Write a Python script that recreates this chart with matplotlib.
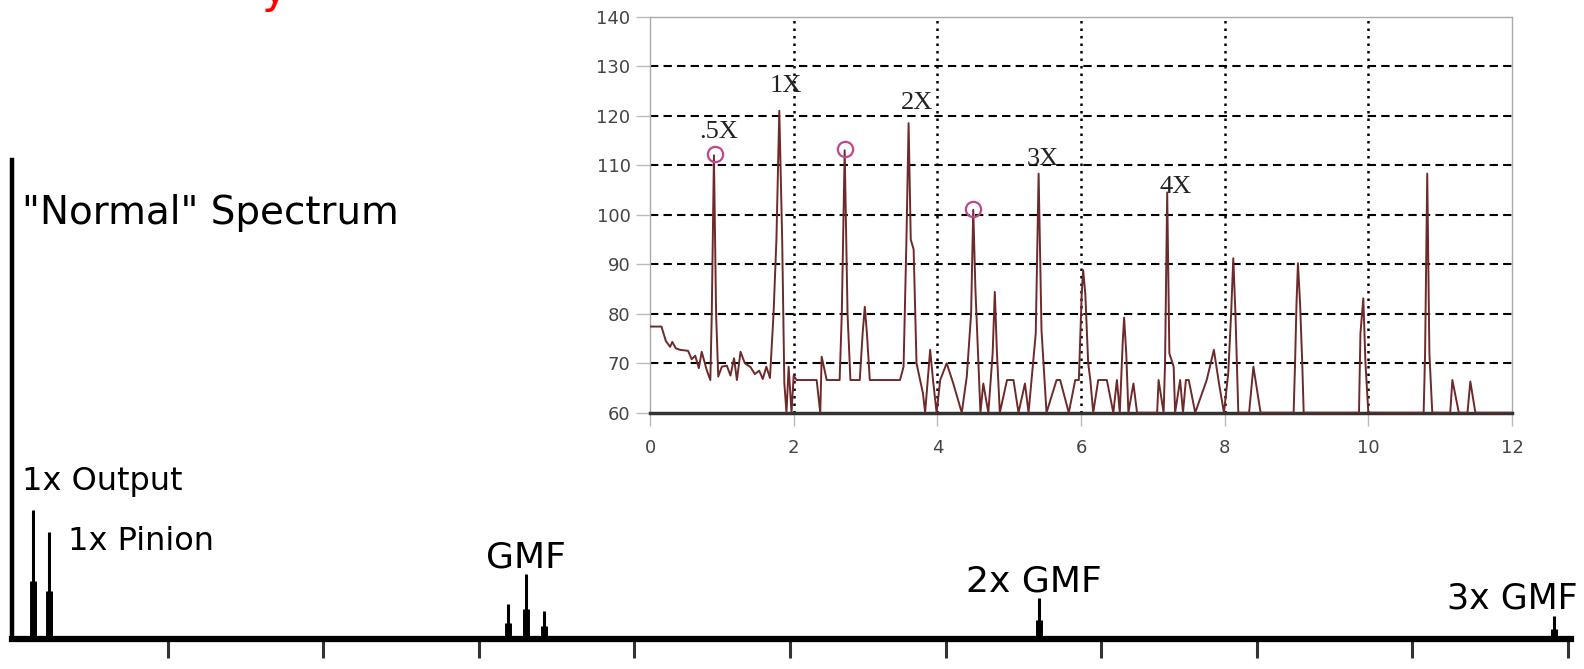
import matplotlib
matplotlib.use("Agg")
import matplotlib.pyplot as plt

# inset spectrum (frequency, amplitude)
spec_x = [0.00, 0.16, 0.22, 0.28, 0.31, 0.36, 0.42, 0.53, 0.58, 0.63, 0.68, 0.72, 0.79, 0.84,
          0.86, 0.89, 0.92, 0.95, 1.00, 1.07, 1.12, 1.17, 1.21, 1.26, 1.32, 1.40, 1.46, 1.52,
          1.57, 1.62, 1.67, 1.72, 1.76, 1.80, 1.84, 1.87, 1.90, 1.93, 1.97, 2.00, 2.04, 2.32,
          2.37, 2.39, 2.46, 2.64, 2.67, 2.71, 2.75, 2.79, 2.92, 2.96, 2.99, 3.02, 3.06, 3.48,
          3.53, 3.57, 3.60, 3.63, 3.67, 3.71, 3.80, 3.83, 3.90, 3.94, 3.99, 4.04, 4.13, 4.22,
          4.34, 4.41, 4.47, 4.50, 4.53, 4.60, 4.64, 4.71, 4.77, 4.80, 4.83, 4.87, 4.97, 5.06,
          5.13, 5.22, 5.27, 5.32, 5.37, 5.41, 5.45, 5.52, 5.66, 5.71, 5.83, 5.92, 5.97, 6.01,
          6.03, 6.06, 6.10, 6.13, 6.17, 6.24, 6.36, 6.45, 6.50, 6.54, 6.58, 6.60, 6.63, 6.66,
          6.73, 6.78, 7.06, 7.08, 7.15, 7.17, 7.20, 7.23, 7.29, 7.31, 7.38, 7.42, 7.46, 7.50,
          7.59, 7.75, 7.85, 7.92, 7.99, 8.05, 8.09, 8.12, 8.15, 8.19, 8.34, 8.40, 8.50, 8.96,
          8.98, 9.00, 9.02, 9.05, 9.08, 9.10, 9.87, 9.89, 9.93, 9.96, 10.00, 10.77, 10.79,
          10.82, 10.85, 10.89, 11.14, 11.17, 11.26, 11.38, 11.42, 11.49, 12.00]
spec_y = [77.4, 77.4, 74.5, 73.3, 74.3, 73.0, 72.7, 72.5, 70.8, 71.5, 69.0, 72.3, 68.6, 66.6,
          80.0, 112.0, 80.0, 67.3, 69.3, 69.5, 67.5, 71.0, 66.6, 72.3, 70.0, 69.2, 67.8, 68.5,
          66.8, 69.3, 67.0, 80.0, 95.0, 121.0, 95.0, 66.0, 60.0, 69.3, 60.0, 67.5, 66.6, 66.6,
          60.0, 71.3, 66.6, 66.6, 80.0, 113.0, 80.0, 66.6, 66.6, 76.0, 81.4, 76.0, 66.6, 66.6,
          69.3, 95.0, 118.5, 95.0, 93.0, 70.0, 63.9, 60.0, 72.7, 66.6, 60.0, 66.6, 70.0, 66.0,
          60.0, 67.3, 80.0, 101.0, 85.0, 60.0, 65.9, 60.0, 72.0, 84.4, 72.0, 60.0, 66.6, 66.6,
          60.0, 65.9, 60.0, 68.0, 76.0, 108.3, 76.7, 60.0, 66.6, 66.6, 60.0, 66.6, 66.6, 84.0,
          88.8, 84.0, 70.0, 66.6, 60.0, 66.6, 66.6, 60.0, 66.6, 60.0, 74.0, 79.2, 72.0, 60.0,
          65.9, 60.0, 60.0, 66.6, 60.0, 70.0, 104.5, 72.0, 69.3, 60.0, 66.6, 60.0, 66.6, 66.6,
          60.0, 66.6, 72.7, 66.0, 60.0, 68.0, 80.0, 91.2, 80.0, 60.0, 60.0, 69.3, 60.0, 60.0,
          70.0, 82.0, 90.2, 82.0, 70.0, 60.0, 60.0, 76.0, 83.1, 70.0, 60.0, 60.0, 72.0,
          108.3, 72.0, 60.0, 60.0, 66.6, 60.0, 60.0, 66.3, 60.0, 60.0]

circle_x = [0.905, 2.72, 4.50]
circle_y = [112.3, 113.2, 101.2]

order_labels = [".5X", "1X", "2X", "3X", "4X"]
order_x = [0.95, 1.89, 3.71, 5.47, 7.32]
order_y = [116.8, 125.9, 122.6, 111.3, 105.5]

# "normal" spectrum sketch: peak positions and heights (axis fraction)
peak_x = [0.137, 0.241, 3.19, 3.305, 3.42, 6.60, 9.91]
peak_h = [0.269, 0.222, 0.072, 0.135, 0.057, 0.085, 0.046]

sketch_labels = ["1x Output", "1x Pinion", "GMF", "2x GMF", "3x GMF"]
sketch_lx = [0.064, 0.358, 3.30, 6.57, 9.64]
sketch_ly = [0.310, 0.184, 0.148, 0.099, 0.063]
sketch_ha = ["left", "left", "center", "center", "center"]
sketch_size = [23, 23, 26, 26, 25]

fig = plt.figure(figsize=(15.84, 6.69), dpi=100)

# ---- sketch of a normal gearbox spectrum ----
ax_s = fig.add_axes([12 / 1584, 1 - 638.5 / 669, 1559 / 1584, 478.5 / 669])
ax_s.set_xlim(0, 1559 / 155.6)
ax_s.set_ylim(0, 1)
for side in ["top", "right"]:
    ax_s.spines[side].set_visible(False)
ax_s.spines["left"].set_linewidth(3.2)
ax_s.spines["bottom"].set_linewidth(4.5)
ax_s.set_xticks(range(1, 11))
ax_s.set_xticklabels([])
ax_s.set_yticks([])
ax_s.tick_params(axis="x", length=14, width=2.2, color="#333333")
ax_s.vlines(peak_x, 0, peak_h, color="black", lw=2.2)
ax_s.vlines(peak_x, 0, [h * 0.45 for h in peak_h], color="black", lw=5)
ax_s.text(0.064, 0.866, '"Normal" Spectrum', fontsize=28, ha="left", va="baseline")
for lab, lx, ly, ha, fs in zip(sketch_labels, sketch_lx, sketch_ly, sketch_ha, sketch_size):
    ax_s.text(lx, ly, lab, fontsize=fs, ha=ha, va="baseline")

# cut-off red title at the very top
fig.text(262 / 1584, 1.0 - 3 / 669, "y", color="red", fontsize=32, ha="left", va="baseline")

# ---- measured spectrum inset ----
ax_i = fig.add_axes([650 / 1584, 1 - 412.7 / 669, 862 / 1584, 396 / 669], zorder=3)
ax_i.set_facecolor("white")
ax_i.plot(spec_x, spec_y, color="#6e2a2a", lw=1.4, zorder=3)
ax_i.plot(circle_x, circle_y, "o", ms=11, mfc="none", mec="#c2468a", mew=1.6, zorder=4)
for lab, ox, oy in zip(order_labels, order_x, order_y):
    ax_i.text(ox, oy, lab, family="Liberation Serif", fontsize=19, ha="center", va="center",
              color="#222222", zorder=5)
ax_i.set_xlim(0, 12)
ax_i.set_ylim(60, 140)
ax_i.set_xticks(range(0, 13, 2))
ax_i.set_yticks(range(60, 141, 10))
for v in range(2, 12, 2):
    ax_i.axvline(v, color="black", lw=1.8, ls=(0, (1, 2)), zorder=1)
for v in range(70, 140, 10):
    ax_i.axhline(v, color="black", lw=1.5, ls=(0, (4, 2.5)), zorder=1)
for side in ["top", "right", "left"]:
    ax_i.spines[side].set_color("#aaaaaa")
    ax_i.spines[side].set_linewidth(1.0)
ax_i.spines["bottom"].set_color("#333333")
ax_i.spines["bottom"].set_linewidth(2.5)
ax_i.tick_params(axis="x", length=9, width=1, color="#bbbbbb", pad=10,
                 labelsize=13, labelcolor="#444444")
ax_i.tick_params(axis="y", length=10, width=1, color="#bbbbbb", pad=4,
                 labelsize=13, labelcolor="#444444")

fig.savefig("out.png", dpi=100)
